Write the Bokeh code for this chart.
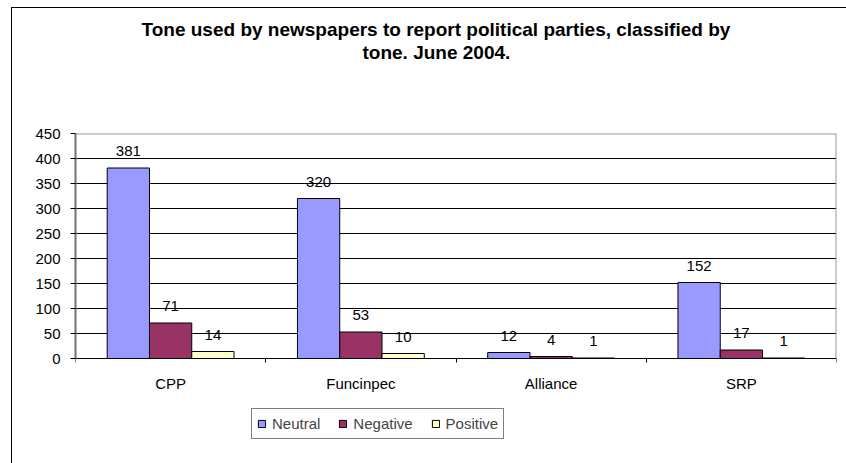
from bokeh.plotting import figure
from bokeh.models import (ColumnDataSource, Range1d, FixedTicker, LabelSet, Title,
                          Legend, LegendItem)
from bokeh.core.properties import value
from bokeh.embed import file_html
from bokeh.resources import INLINE

# ---- data ----
categories = ["CPP", "Funcinpec", "Alliance", "SRP"]
series_names = ["Neutral", "Negative", "Positive"]
neutral = [381, 320, 12, 152]
negative = [71, 53, 4, 17]
positive = [14, 10, 1, 1]
y_ticks = [0, 50, 100, 150, 200, 250, 300, 350, 400, 450]
title_lines = ["Tone used by newspapers to report political parties, classified by",
               "tone. June 2004."]

colors = ["#9999FF", "#993366", "#FFFFCC"]
FONT = "Liberation Sans"
Y_LOW = -184   # room below the value axis for category labels and the legend

ncat = len(categories)
ymax = y_ticks[-1]

p = figure(frame_width=761, frame_height=317, x_range=Range1d(0, ncat),
           y_range=Range1d(Y_LOW, ymax),
           output_backend="svg", toolbar_location=None,
           min_border_left=75, min_border_right=10,
           min_border_top=133, min_border_bottom=13)
p.background_fill_color = "white"
p.border_fill_color = None
p.outline_line_color = None
p.styles = {
    "background-color": "white",
    "background-image": "linear-gradient(#000,#000), linear-gradient(#000,#000)",
    "background-size": "1px 100%, 100% 1px",
    "background-position": "11px 7px, 11px 7px",
    "background-repeat": "no-repeat",
}

# plot-area border (top and right edges, grey)
p.segment(x0=[0, ncat], y0=[ymax, 0], x1=[ncat, ncat], y1=[ymax, ymax],
          line_color="#9a9a9a", line_width=2)

# grid
p.xgrid.visible = False
p.ygrid.ticker = FixedTicker(ticks=y_ticks[1:-1])
p.ygrid.grid_line_color = "black"
p.ygrid.grid_line_width = 1
p.ygrid.bounds = (0, ymax)

bar_w = 1 / 4.5
legend_items = []
for s, (name, vals, col) in enumerate(zip(series_names, [neutral, negative, positive], colors)):
    xs = [i + 0.5 + (s - 1) * bar_w for i in range(ncat)]
    src = ColumnDataSource(dict(x=xs, top=vals, lab=[str(v) for v in vals]))
    r = p.vbar(x="x", top="top", bottom=0, width=bar_w, source=src,
               fill_color=col, line_color="black", line_width=1)
    legend_items.append(LegendItem(label=name, renderers=[r]))
    p.add_layout(LabelSet(x="x", y="top", text="lab", source=src,
                          text_align="center", text_baseline="alphabetic",
                          y_offset=12, text_font=value(FONT),
                          text_font_size=value("15px"), text_color="black"))

# y axis
p.yaxis.ticker = FixedTicker(ticks=y_ticks)
p.yaxis.bounds = (0, ymax)
p.yaxis.minor_tick_line_color = None
p.yaxis.major_tick_in = 0
p.yaxis.major_tick_out = 5
p.yaxis.major_tick_line_color = "black"
p.yaxis.axis_line_color = "#707070"
p.yaxis.axis_line_width = 2
p.yaxis.major_label_standoff = 10
p.yaxis.major_label_text_font = FONT
p.yaxis.major_label_text_font_size = "15px"
p.yaxis.major_label_text_color = "black"

# x axis (category axis sitting on value 0)
centers = [i + 0.5 for i in range(ncat)]
p.xaxis.fixed_location = 0
p.xaxis.ticker = FixedTicker(ticks=centers, minor_ticks=list(range(ncat + 1)))
p.xaxis.major_label_overrides = {c: n for c, n in zip(centers, categories)}
p.xaxis.major_tick_line_color = None
p.xaxis.major_tick_in = 0
p.xaxis.major_tick_out = 0
p.xaxis.minor_tick_in = 0
p.xaxis.minor_tick_out = 4
p.xaxis.minor_tick_line_color = "black"
p.xaxis.axis_line_color = "black"
p.xaxis.axis_line_width = 1
p.xaxis.major_label_standoff = 12
p.xaxis.major_label_text_font = FONT
p.xaxis.major_label_text_font_size = "15px"
p.xaxis.major_label_text_color = "black"

# title: spacer nearest the frame, then line 2, then line 1
p.add_layout(Title(text=" ", text_font_size="1px", standoff=68), "above")
for line, off in zip(reversed(title_lines), [287, 66]):
    p.add_layout(Title(text=line, align="left", offset=off, standoff=0,
                       text_font=FONT, text_font_style="bold", text_font_size="19px",
                       text_color="black"), "above")

legend = Legend(items=legend_items, orientation="horizontal", location=(176, 11),
                border_line_color="black", border_line_width=1,
                padding=5, spacing=18, margin=0, label_height=19,
                glyph_width=9, glyph_height=9, label_standoff=6,
                label_text_font=FONT, label_text_font_size="15px",
                background_fill_color="white", background_fill_alpha=1)
p.add_layout(legend)

open("out.html", "w").write(file_html(p, INLINE))
